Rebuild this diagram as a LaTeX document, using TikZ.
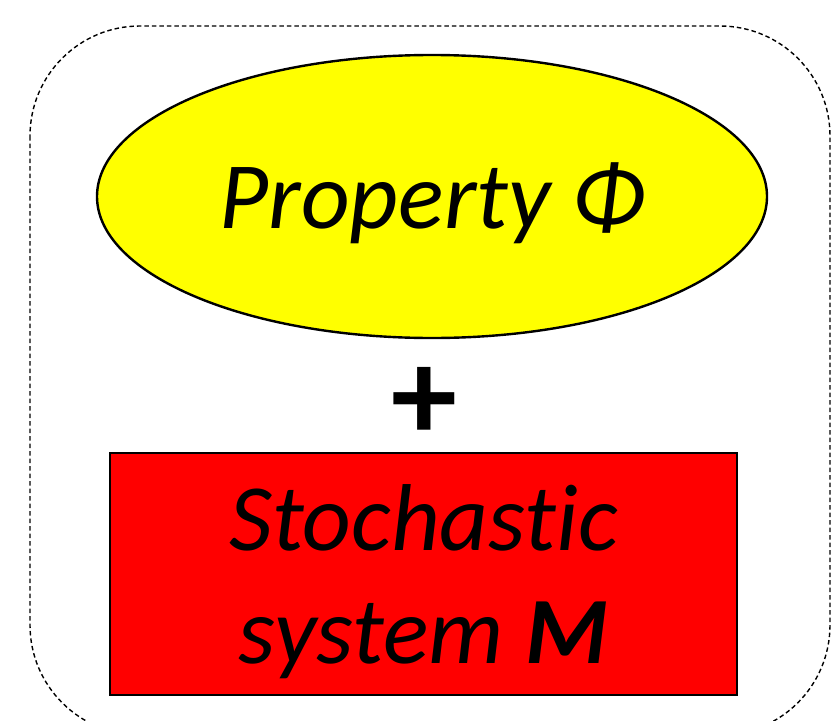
\documentclass[tikz,border=0pt]{standalone}
\usepackage{fontspec}
\setmainfont{Carlito}[Ligatures=CommonOff]
\usetikzlibrary{positioning,shapes.geometric}
\definecolor{propyellow}{RGB}{255,255,0}
\definecolor{sysred}{RGB}{255,0,0}
\tikzset{
  frame/.style={draw,dashed,dash pattern=on 4.5pt off 3pt,line width=1.4pt,rounded corners=110pt},
  propbox/.style={ellipse,draw,line width=2.4pt,fill=propyellow,inner sep=0pt,minimum width=670pt,minimum height=283pt},
  sysbox/.style={rectangle,draw,line width=2.4pt,fill=sysred,inner sep=0pt,minimum width=627pt,minimum height=242pt},
  bigtxt/.style={font=\fontsize{95}{113}\selectfont\itshape,inner sep=0pt}
}

\begin{document}
\begin{tikzpicture}[x=1pt,y=-1pt]
\useasboundingbox (0,0) rectangle (832,720);
\clip (0,0) rectangle (832,720);
\draw[frame] (30,26) rectangle (830,735);
% property
\node[propbox] (prop) at (432,196.5) {};
\node[bigtxt,anchor=base] (proptxt) at (432,228) {Property Φ};
% plus sign
\node[font=\fontsize{132}{132}\selectfont\bfseries,inner sep=0pt,text height=38pt,text depth=0pt] (plus) at (424,421) {+};
% system
\node[sysbox] (sys) at (423.5,574) {};
\node[bigtxt,align=center,anchor=base] (systxt) at (423.5,663) {Stochastic\\system \textbf{M}};
\end{tikzpicture}
\end{document}
